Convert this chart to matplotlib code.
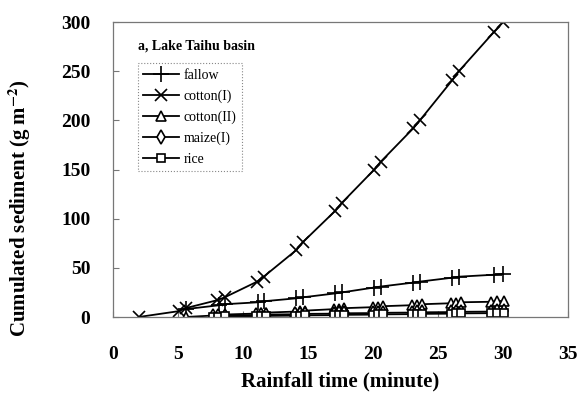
import matplotlib
matplotlib.use("Agg")
import matplotlib.pyplot as plt

plt.rcParams["font.family"] = ["Liberation Serif", "DejaVu Serif"]
plt.rcParams["mathtext.fontset"] = "stix"

# cumulated sediment (g m-2) vs rainfall time (minute)
fallow_x = [5.6, 8.2, 8.6, 11.2, 11.6, 14.1, 14.6, 17.1, 17.6, 20.1, 20.6,
            23.1, 23.6, 26.1, 26.6, 29.3, 30.0]
fallow_y = [8, 12, 13, 15, 16, 19, 20, 24, 25, 30, 31, 35, 36, 40, 41, 43, 44]

cotton1_x = [2.0, 5.1, 5.6, 8.0, 8.6, 11.1, 11.6, 14.1, 14.6, 17.1, 17.6,
             20.1, 20.6, 23.1, 23.6, 26.1, 26.6, 29.3, 30.0]
cotton1_y = [0, 6, 9, 17, 20, 36, 41, 68, 76, 108, 116, 150, 158, 192, 200,
             241, 250, 290, 300]

cotton2_x = [5.6, 7.7, 8.1, 8.6, 11.0, 11.4, 11.8, 14.0, 14.4, 14.8, 17.0,
             17.4, 17.8, 20.0, 20.4, 20.8, 23.0, 23.4, 23.8, 26.0, 26.4, 26.8,
             29.1, 29.5, 30.1]
cotton2_y = [0, 1.5, 2, 2.5, 3.5, 4, 4.5, 5.5, 6, 6.5, 8, 8.5, 9, 10, 10.5, 11,
             12, 12.5, 13, 14, 14.5, 15, 15.5, 16, 16.5]

maize_x = [7.7, 8.1, 8.6, 11.0, 11.4, 11.8, 14.0, 14.4, 14.8, 17.0, 17.4,
           17.8, 20.0, 20.4, 20.8, 23.0, 23.4, 23.8, 26.0, 26.4, 26.8, 29.1,
           29.5, 30.1]
maize_y = [1.0, 1.2, 1.5, 2.0, 2.2, 2.5, 2.8, 3.0, 3.2, 3.4, 3.6, 3.8, 4.0,
           4.1, 4.3, 4.5, 4.6, 4.8, 5.0, 5.1, 5.3, 5.5, 5.6, 5.8]

rice_x = [7.7, 8.1, 8.6, 11.0, 11.4, 11.8, 14.0, 14.4, 14.8, 17.0, 17.4,
          17.8, 20.0, 20.4, 20.8, 23.0, 23.4, 23.8, 26.0, 26.4, 26.8, 29.1,
          29.5, 30.1]
rice_y = [0.4, 0.5, 0.7, 0.9, 1.0, 1.1, 1.4, 1.5, 1.7, 1.9, 2.0, 2.2, 2.4,
          2.6, 2.7, 2.9, 3.1, 3.2, 3.4, 3.6, 3.7, 3.9, 4.1, 4.3]

fig = plt.figure(figsize=(5.81, 3.97), dpi=100)
ax = fig.add_axes([0.194, 0.2015, 0.784, 0.743])

style = dict(color="black", linewidth=1.3, markeredgewidth=1.2)
ax.plot(fallow_x, fallow_y, marker="+", markersize=11, label="fallow", **style)
ax.plot(cotton1_x, cotton1_y, marker="x", markersize=9, label="cotton(I)", **style)
ax.plot(cotton2_x, cotton2_y, marker="^", markersize=7, markerfacecolor="white",
        label="cotton(II)", **style)
ax.plot(maize_x, maize_y, marker="d", markersize=7, markerfacecolor="white",
        label="maize(I)", **style)
ax.plot(rice_x, rice_y, marker="s", markersize=6, markerfacecolor="white",
        label="rice", **style)

ax.set_xlim(0, 35)
ax.set_ylim(0, 300)
ax.set_xticks(range(0, 36, 5))
ax.set_yticks(range(0, 301, 50))

for s in ax.spines.values():
    s.set_color("#777777")
    s.set_linewidth(0.9)

ax.tick_params(axis="both", direction="in", length=4, color="#777777",
               labelsize=14)
ax.tick_params(axis="x", pad=21)
ax.tick_params(axis="y", pad=16)
for lab in ax.get_xticklabels() + ax.get_yticklabels():
    lab.set_fontweight("bold")

ax.set_xlabel("Rainfall time (minute)", fontsize=15, fontweight="bold", labelpad=6)
ax.set_ylabel(r"Cumulated sediment (g m$^{\mathbf{-2}}$)", fontsize=15,
              fontweight="bold")
ax.yaxis.set_label_coords(-0.175, 0.37)

ax.text(0.055, 0.92, "a, Lake Taihu basin", transform=ax.transAxes,
        fontsize=10, fontweight="bold", va="center")

leg = ax.legend(loc="upper left", bbox_to_anchor=(0.055, 0.86), fontsize=10,
                frameon=True, fancybox=False, framealpha=1, edgecolor="#888888",
                handlelength=2.6, borderaxespad=0, labelspacing=0.55,
                handletextpad=0.3, borderpad=0.4)
leg.get_frame().set_linewidth(0.8)
leg.get_frame().set_linestyle(":")

fig.savefig("out.png", dpi=100)
